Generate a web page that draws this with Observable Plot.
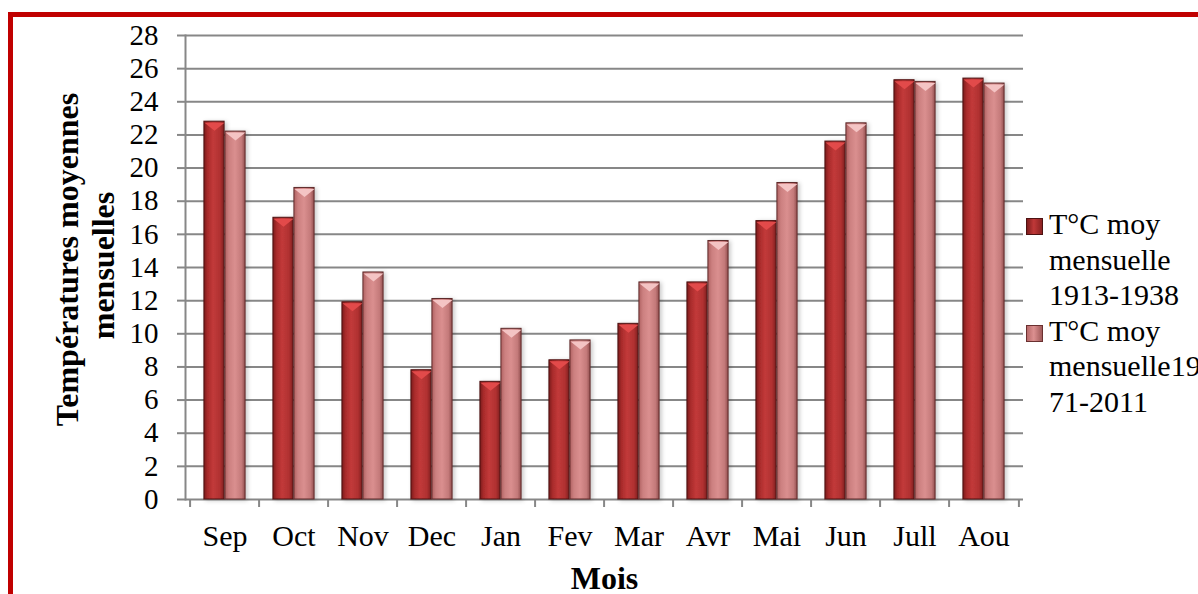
<!DOCTYPE html>
<html>
<head>
<meta charset="utf-8">
<script src="https://cdn.jsdelivr.net/npm/d3@7"></script>
<script src="https://cdn.jsdelivr.net/npm/@observablehq/plot@0.6"></script>
<style>
  html, body { margin: 0; padding: 0; background: #fff; overflow: hidden; }
  #wrap { position: relative; width: 1198px; height: 594px; overflow: hidden;
          font-family: "Liberation Serif", "Times New Roman", serif; color: #000; }
  #chart { position: absolute; left: 0; top: 0; }
  #frame { position: absolute; left: 8px; top: 12px; width: 1400px; height: 800px;
           border-left: 5px solid #c00000; border-top: 5px solid #c00000; }
  #legend { position: absolute; left: 1026px; top: 206px; font-size: 30px;
            line-height: 35.5px; white-space: nowrap; }
  .item { position: relative; padding-left: 23px; }
  .sw { position: absolute; left: 0; top: 12px; width: 15px; height: 15px; }
  .swA { background: linear-gradient(to right, #7e1d1d, #c03838 45%, #8a2222);
         border: 1px solid #4d1212; }
  .swB { background: linear-gradient(to right, #b86a6a, #dc9090 45%, #a05a5a);
         border: 1px solid #6a3030; }
</style>
</head>
<body>
<div id="wrap">
  <div id="chart"></div>
  <div id="legend"></div>
  <div id="frame"></div>
</div>
<script>
// Monthly mean temperatures (°C), two reference periods
const months = ["Sep", "Oct", "Nov", "Dec", "Jan", "Fev", "Mar", "Avr", "Mai", "Jun", "Jull", "Aou"];
const t1913_1938 = [22.8, 17.0, 11.9, 7.8, 7.1, 8.4, 10.6, 13.1, 16.8, 21.6, 25.3, 25.4];
const t1971_2011 = [22.2, 18.8, 13.7, 12.1, 10.3, 9.6, 13.1, 15.6, 19.1, 22.7, 25.2, 25.1];
const yTicks = [0, 2, 4, 6, 8, 10, 12, 14, 16, 18, 20, 22, 24, 26, 28];
const seriesNames = ["T°C moy\nmensuelle\n1913-1938", "T°C moy\nmensuelle19\n71-2011"];

const rows = months.map((m, i) => ({month: m, a: t1913_1938[i], b: t1971_2011[i]}));

// Layout
const W = 1198, H = 594;
const ml = 185, mr = 175, mt = 35, mb = 95;
const bw = (W - ml - mr) / months.length;   // band width per month
const barW = 21;                            // width of one bar
const gapIn = bw / 2 - barW;                // inset from band edge to the bar pair
const midY = mt + (H - mt - mb) / 2;        // vertical centre of the frame
const gridColor = "#878787";

// Bevelled top: a small downward triangle spanning the bar width
const capSymbol = {
  draw(ctx) {
    const hw = barW / 2 - 0.5;
    ctx.moveTo(-hw, 0);
    ctx.lineTo(hw, 0);
    ctx.lineTo(0, 8);
    ctx.closePath();
  }
};

const svg = Plot.plot({
  width: W,
  height: H,
  marginLeft: ml,
  marginRight: mr,
  marginTop: mt,
  marginBottom: mb,
  style: {fontFamily: "'Liberation Serif', 'Times New Roman', serif", color: "#000", background: "transparent"},
  x: {domain: months, padding: 0, label: null},
  y: {domain: [0, 28], label: null},
  marks: [
    Plot.gridY(yTicks, {stroke: gridColor, strokeOpacity: 1, strokeWidth: 2}),
    Plot.axisY(yTicks, {tickSize: 8, tickPadding: 19, stroke: gridColor, strokeWidth: 2, fontSize: 29, label: null}),
    Plot.frame({anchor: "left", stroke: gridColor, strokeWidth: 2}),
    // category separators below the baseline
    Plot.ruleX(months, {x: d => d, dx: -bw / 2, insetTop: H - mt - mb, insetBottom: -8, stroke: gridColor, strokeWidth: 2}),
    Plot.ruleX(months.slice(-1), {x: d => d, dx: bw / 2, insetTop: H - mt - mb, insetBottom: -8, stroke: gridColor, strokeWidth: 2}),
    Plot.axisX({tickSize: 0, tickPadding: 25, fontSize: 30, label: null}),
    // bars
    Plot.barY(rows, {x: "month", y: "a", insetLeft: gapIn, insetRight: bw / 2,
      fill: "url(#gA)", stroke: "#4d1212", strokeWidth: 1}),
    Plot.barY(rows, {x: "month", y: "b", insetLeft: bw / 2, insetRight: gapIn,
      fill: "url(#gB)", stroke: "#5e2a2a", strokeWidth: 1}),
    Plot.dot(rows, {x: "month", y: "a", dx: -barW / 2, dy: 1, symbol: capSymbol, r: 5, fill: "#e24a4a", stroke: "none"}),
    Plot.dot(rows, {x: "month", y: "b", dx: barW / 2, dy: 1, symbol: capSymbol, r: 5, fill: "#f4c4c4", stroke: "none"}),
    // axis titles
    Plot.text(["Mois"], {frameAnchor: "bottom", dy: 89, lineAnchor: "bottom", textAnchor: "middle",
      fontWeight: "bold", fontSize: 32}),
    Plot.text(["Températures moyennes"], {frameAnchor: "left", dx: 77 - ml, dy: 259 - midY,
      rotate: -90, lineAnchor: "bottom", textAnchor: "middle", fontWeight: "bold", fontSize: 32}),
    Plot.text(["mensuelles"], {frameAnchor: "left", dx: 113 - ml, dy: 265 - midY,
      rotate: -90, lineAnchor: "bottom", textAnchor: "middle", fontWeight: "bold", fontSize: 32})
  ]
});

// Gradients and shadow used by the bars
const defs = document.createElementNS("http://www.w3.org/2000/svg", "defs");
defs.innerHTML = `
  <linearGradient id="gA" x1="0" x2="1" y1="0" y2="0">
    <stop offset="0" stop-color="#7a1b1b"/>
    <stop offset="0.18" stop-color="#a82a2a"/>
    <stop offset="0.45" stop-color="#c23a3a"/>
    <stop offset="0.8" stop-color="#b03131"/>
    <stop offset="1" stop-color="#7f1f1f"/>
  </linearGradient>
  <linearGradient id="gB" x1="0" x2="1" y1="0" y2="0">
    <stop offset="0" stop-color="#b06262"/>
    <stop offset="0.2" stop-color="#cc8080"/>
    <stop offset="0.5" stop-color="#da8f8f"/>
    <stop offset="0.82" stop-color="#c47a7a"/>
    <stop offset="1" stop-color="#935050"/>
  </linearGradient>
  <filter id="sh" x="-30%" y="-5%" width="170%" height="115%">
    <feDropShadow dx="2" dy="1" stdDeviation="2" flood-color="#000" flood-opacity="0.22"/>
  </filter>`;
svg.prepend(defs);
svg.querySelectorAll('g[aria-label="bar"]').forEach(g => g.setAttribute("filter", "url(#sh)"));
document.getElementById("chart").appendChild(svg);

// Legend
const legend = document.getElementById("legend");
seriesNames.forEach((name, i) => {
  const item = document.createElement("div");
  item.className = "item";
  const sw = document.createElement("div");
  sw.className = "sw " + (i === 0 ? "swA" : "swB");
  item.appendChild(sw);
  name.split("\n").forEach((line, j) => {
    if (j) item.appendChild(document.createElement("br"));
    item.appendChild(document.createTextNode(line));
  });
  legend.appendChild(item);
});
</script>
</body>
</html>
